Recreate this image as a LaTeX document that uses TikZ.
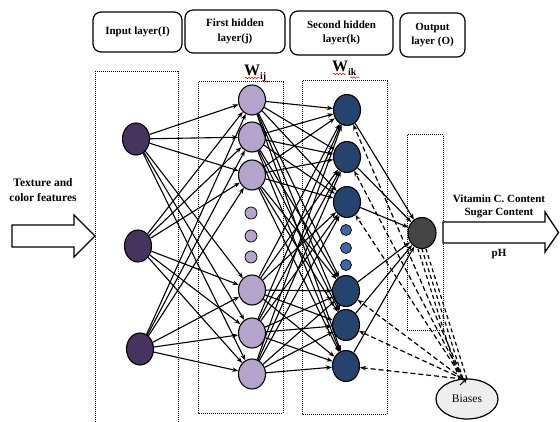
\documentclass[tikz,border=0pt]{standalone}
\usepackage{fontspec}
\setmainfont{Liberation Serif}
\usetikzlibrary{arrows.meta,shapes.geometric,decorations.pathmorphing}
\definecolor{inpc}{HTML}{46335E}
\definecolor{hidac}{HTML}{B4A3CB}
\definecolor{hidbc}{HTML}{24436D}
\definecolor{dotbc}{HTML}{3A68A6}
\definecolor{outc}{HTML}{454545}
\definecolor{biasc}{HTML}{EEEEEE}
\tikzset{
  hdr/.style={draw, rounded corners=8pt, line width=1.2pt, align=center, inner sep=0pt,
    font=\fontsize{11}{14.5}\selectfont\bfseries},
  dotbox/.style={densely dotted, line width=1pt},
  neuron/.style={ellipse, draw, line width=1.1pt, inner sep=0pt, minimum width=27pt, minimum height=31pt},
  inneur/.style={neuron, fill=inpc, minimum height=32pt},
  haneur/.style={neuron, fill=hidac, minimum height=30pt},
  hbneur/.style={neuron, fill=hidbc},
  hadot/.style={circle, draw, line width=0.7pt, fill=hidac, inner sep=0pt, minimum size=12pt},
  hbdot/.style={circle, draw, line width=0.7pt, fill=dotbc, inner sep=0pt, minimum size=11pt},
  arr/.style={-{Stealth[length=6pt,width=4.5pt]}, line width=1.1pt},
  darr/.style={-{Stealth[length=6pt,width=4.5pt]}, line width=1.2pt, dash pattern=on 5pt off 3pt},
  dln/.style={line width=1.2pt, dash pattern=on 4pt off 3pt},
  lbl/.style={font=\fontsize{11}{13}\selectfont\bfseries, align=center, inner sep=0pt},
  bigarrow/.style={draw, line width=1.3pt, fill=white},
  wave/.style={red, line width=0.5pt, decorate, decoration={snake, amplitude=0.7pt, segment length=3pt}}
}
\begin{document}
\begin{tikzpicture}[x=1pt,y=-1pt]
\useasboundingbox (0,0) rectangle (560,422);
\fill[white] (0,0) rectangle (560,422);

% header boxes
\node[hdr, minimum width=89pt, minimum height=40pt] (hI) at (137.5,32) {Input layer(I)};
\node[hdr, minimum width=100pt, minimum height=43pt] (hJ) at (235,31.5) {First hidden\\layer(j)};
\node[hdr, minimum width=103pt, minimum height=44pt] (hK) at (341.5,33) {Second hidden\\layer(k)};
\node[hdr, minimum width=65pt, minimum height=44pt] (hO) at (432.5,35) {Output\\layer (O)};

% weight labels
\node[anchor=base west, inner sep=0pt, font=\fontsize{16}{16}\selectfont\bfseries] (wij) at (244,76)
  {W\raisebox{-3.5pt}{\fontsize{10}{10}\selectfont ij}};
\node[anchor=base west, inner sep=0pt, font=\fontsize{16}{16}\selectfont\bfseries] (wik) at (332,72)
  {W\raisebox{-3.5pt}{\fontsize{10}{10}\selectfont ik}};
\draw[wave] (245,78) -- (260,78);
\draw[wave] (262,81.5) -- (269,81.5);
\draw[wave] (333,74) -- (346,74);
\draw[wave] (350,77.5) -- (359,77.5);

% dotted layer boxes
\draw[dotbox] (95,424) -- (95,72) -- (178,72) -- (178,424);
\draw[dotbox] (198,82) rectangle (283,413);
\draw[dotbox] (302,81) rectangle (387,414);
\draw[dotbox] (407,135) rectangle (443,331);

% input text and arrow
\node[lbl, font=\fontsize{11.5}{14.5}\selectfont\bfseries] (tin) at (43,190) {Texture and\\color features};
\draw[bigarrow] (12,225) -- (74,225) -- (74,215) -- (95,236) -- (74,257) -- (74,247) -- (12,247) -- cycle;

% output text and arrow
\draw[bigarrow] (443,222) -- (545,222) -- (545,212) -- (558.5,232.5) -- (545,252) -- (545,243) -- (443,243) -- cycle;
\node[lbl] (tvc) at (499,199) {Vitamin C. Content};
\node[lbl] (tsc) at (499,213) {Sugar Content};
\node[lbl] (tph) at (499,254) {pH};

% input nodes
\node[inneur] (i1) at (136,139) {};
\node[inneur] (i2) at (138,246) {};
\node[inneur] (i3) at (140,349) {};

% first hidden
\node[haneur] (a1) at (252,100) {};
\node[haneur] (a2) at (252,137) {};
\node[haneur] (a3) at (252,175) {};
\node[hadot] (ad1) at (251,213) {};
\node[hadot] (ad2) at (251,236) {};
\node[hadot] (ad3) at (251,257) {};
\node[haneur] (a4) at (252,290) {};
\node[haneur] (a5) at (252,333) {};
\node[haneur] (a6) at (252,374) {};

% second hidden
\node[hbneur] (b1) at (347,110) {};
\node[hbneur] (b2) at (347,157) {};
\node[hbneur] (b3) at (347,202) {};
\node[hbdot] (bd1) at (346,230) {};
\node[hbdot] (bd2) at (346,248) {};
\node[hbdot] (bd3) at (346,265) {};
\node[hbneur] (b4) at (346,291) {};
\node[hbneur] (b5) at (346,325) {};
\node[hbneur] (b6) at (346,366) {};

% output
\node[neuron, fill=outc, minimum width=28pt, minimum height=31pt] (o) at (422,233) {};

% biases
\node[ellipse, draw, line width=1.2pt, fill=biasc, minimum width=62pt, minimum height=40pt, inner sep=0pt,
  font=\fontsize{11.5}{13}\selectfont] (bias) at (467,399) {Biases};
\coordinate (bt) at (463,379);

% input -> first hidden
\foreach \s in {i1,i2,i3}{
  \foreach \t in {a1,a2,a3,a4,a5,a6}{
    \draw[arr] (\s) -- (\t);
  }
}
% first -> second hidden
\foreach \s in {a1,a2,a3,a4,a5,a6}{
  \foreach \t in {b1,b2,b3,b4,b5,b6}{
    \draw[arr] (\s) -- (\t);
  }
}
% second hidden -> output
\foreach \s in {b1,b2,b3,b4,b5,b6}{
  \draw[arr] (\s) -- (o);
}
% biases -> second hidden
\foreach \t in {b1,b2,b3,b4,b5,b6}{
  \draw[darr] (bt) -- (\t);
}
% biases -- output (parallel dashed lines)
\coordinate (o1) at ([xshift=-4pt]o.south);
\coordinate (o2) at (o.south);
\coordinate (o3) at ([xshift=4pt]o.south);
\draw[dln] ([xshift=-4pt]bt) -- (o1);
\draw[dln] (bt) -- (o2);
\draw[dln] ([xshift=4pt]bt) -- (o3);
\draw[-{Stealth[length=5pt,width=5pt]}, line width=1pt] ([shift={(-3pt,-6pt)}]bt) -- (bias.north);
\end{tikzpicture}
\end{document}
